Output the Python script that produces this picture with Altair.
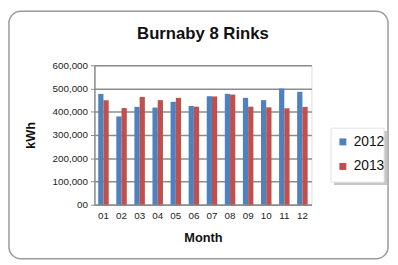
import altair as alt
import pandas as pd

months = ["01", "02", "03", "04", "05", "06", "07", "08", "09", "10", "11", "12"]
kwh_2012 = [477000, 380000, 421000, 418000, 443000, 425000, 467000, 477000, 460000, 450000, 500000, 486000]
kwh_2013 = [450000, 416000, 464000, 450000, 460000, 422000, 466000, 474000, 422000, 419000, 415000, 421000]
years = ["2012", "2013"]
colors = ["#4F81BD", "#C0504D"]

rows = []
for m, a, b in zip(months, kwh_2012, kwh_2013):
    rows.append({"Month": m, "Year": "2012", "kWh": a})
    rows.append({"Month": m, "Year": "2013", "kWh": b})
df = pd.DataFrame(rows)

FONT = "Liberation Sans"
W, H = 221, 142

bars = alt.Chart(df).mark_bar().encode(
    x=alt.X("Month:N", sort=months,
            scale=alt.Scale(paddingInner=0.42, paddingOuter=0.21),
            axis=alt.Axis(title="Month", labelAngle=0, ticks=False, labelPadding=6,
                          labelFontSize=10, labelColor="#222222", labelFont=FONT,
                          titleFont=FONT, titleFontSize=13, titleFontWeight="bold",
                          titleColor="#111111", titleX=W / 2, titleY=37,
                          titleBaseline="alphabetic",
                          domainColor="#8c8c8c", domainWidth=1.5)),
    xOffset=alt.XOffset("Year:N", sort=years),
    y=alt.Y("kWh:Q",
            scale=alt.Scale(domain=[0, 600000]),
            axis=alt.Axis(title="kWh", values=[0, 100000, 200000, 300000, 400000, 500000, 600000],
                          labelExpr="datum.value == 0 ? '00' : format(datum.value, ',')",
                          labelFontSize=10, labelColor="#222222", labelFont=FONT,
                          labelPadding=3, tickSize=4, tickColor="#8c8c8c",
                          titleFont=FONT, titleFontSize=13, titleFontWeight="bold",
                          titleColor="#111111", titleX=-61, titleY=H / 2,
                          titleAngle=-90, titleBaseline="alphabetic", titleAlign="center",
                          grid=True, gridColor="#8c8c8c", gridWidth=1.5,
                          domainColor="#8c8c8c", domainWidth=1.5)),
    color=alt.Color("Year:N", sort=years,
                    scale=alt.Scale(domain=years, range=colors),
                    legend=alt.Legend(title=None, orient="none", legendX=241, legendY=66,
                                      symbolType="square", symbolSize=50,
                                      labelFontSize=14, labelFont=FONT, labelColor="#111111",
                                      rowPadding=11, padding=5)),
)

one = pd.DataFrame({"f": [0]})

frame = alt.Chart(one).mark_rect(
    fill="transparent", stroke="#9a9a9a", strokeWidth=1.5, cornerRadius=12
).encode(x=alt.value(-87), x2=alt.value(299), y=alt.value(-55), y2=alt.value(197))

shadow = alt.Chart(one).mark_rect(fill="#b8b8b8", opacity=0.8).encode(
    x=alt.value(244), x2=alt.value(298), y=alt.value(67), y2=alt.value(122))

box = alt.Chart(one).mark_rect(fill="white", stroke="#e0e0e0", strokeWidth=1).encode(
    x=alt.value(241), x2=alt.value(295), y=alt.value(64), y2=alt.value(119))

chart = alt.layer(frame, shadow, box, bars).properties(
    width=W, height=H,
    title=alt.TitleParams("Burnaby 8 Rinks", font=FONT, fontSize=17, fontWeight="bold",
                          color="#111111", anchor="middle", frame="group", offset=0, dy=33),
    autosize=alt.AutoSizeParams(type="none"),
    padding={"left": 88, "top": 56, "right": 80, "bottom": 58},
).configure_view(stroke=None).configure(background="white")

chart.save("out.html", embed_options={"renderer": "svg", "actions": False})
